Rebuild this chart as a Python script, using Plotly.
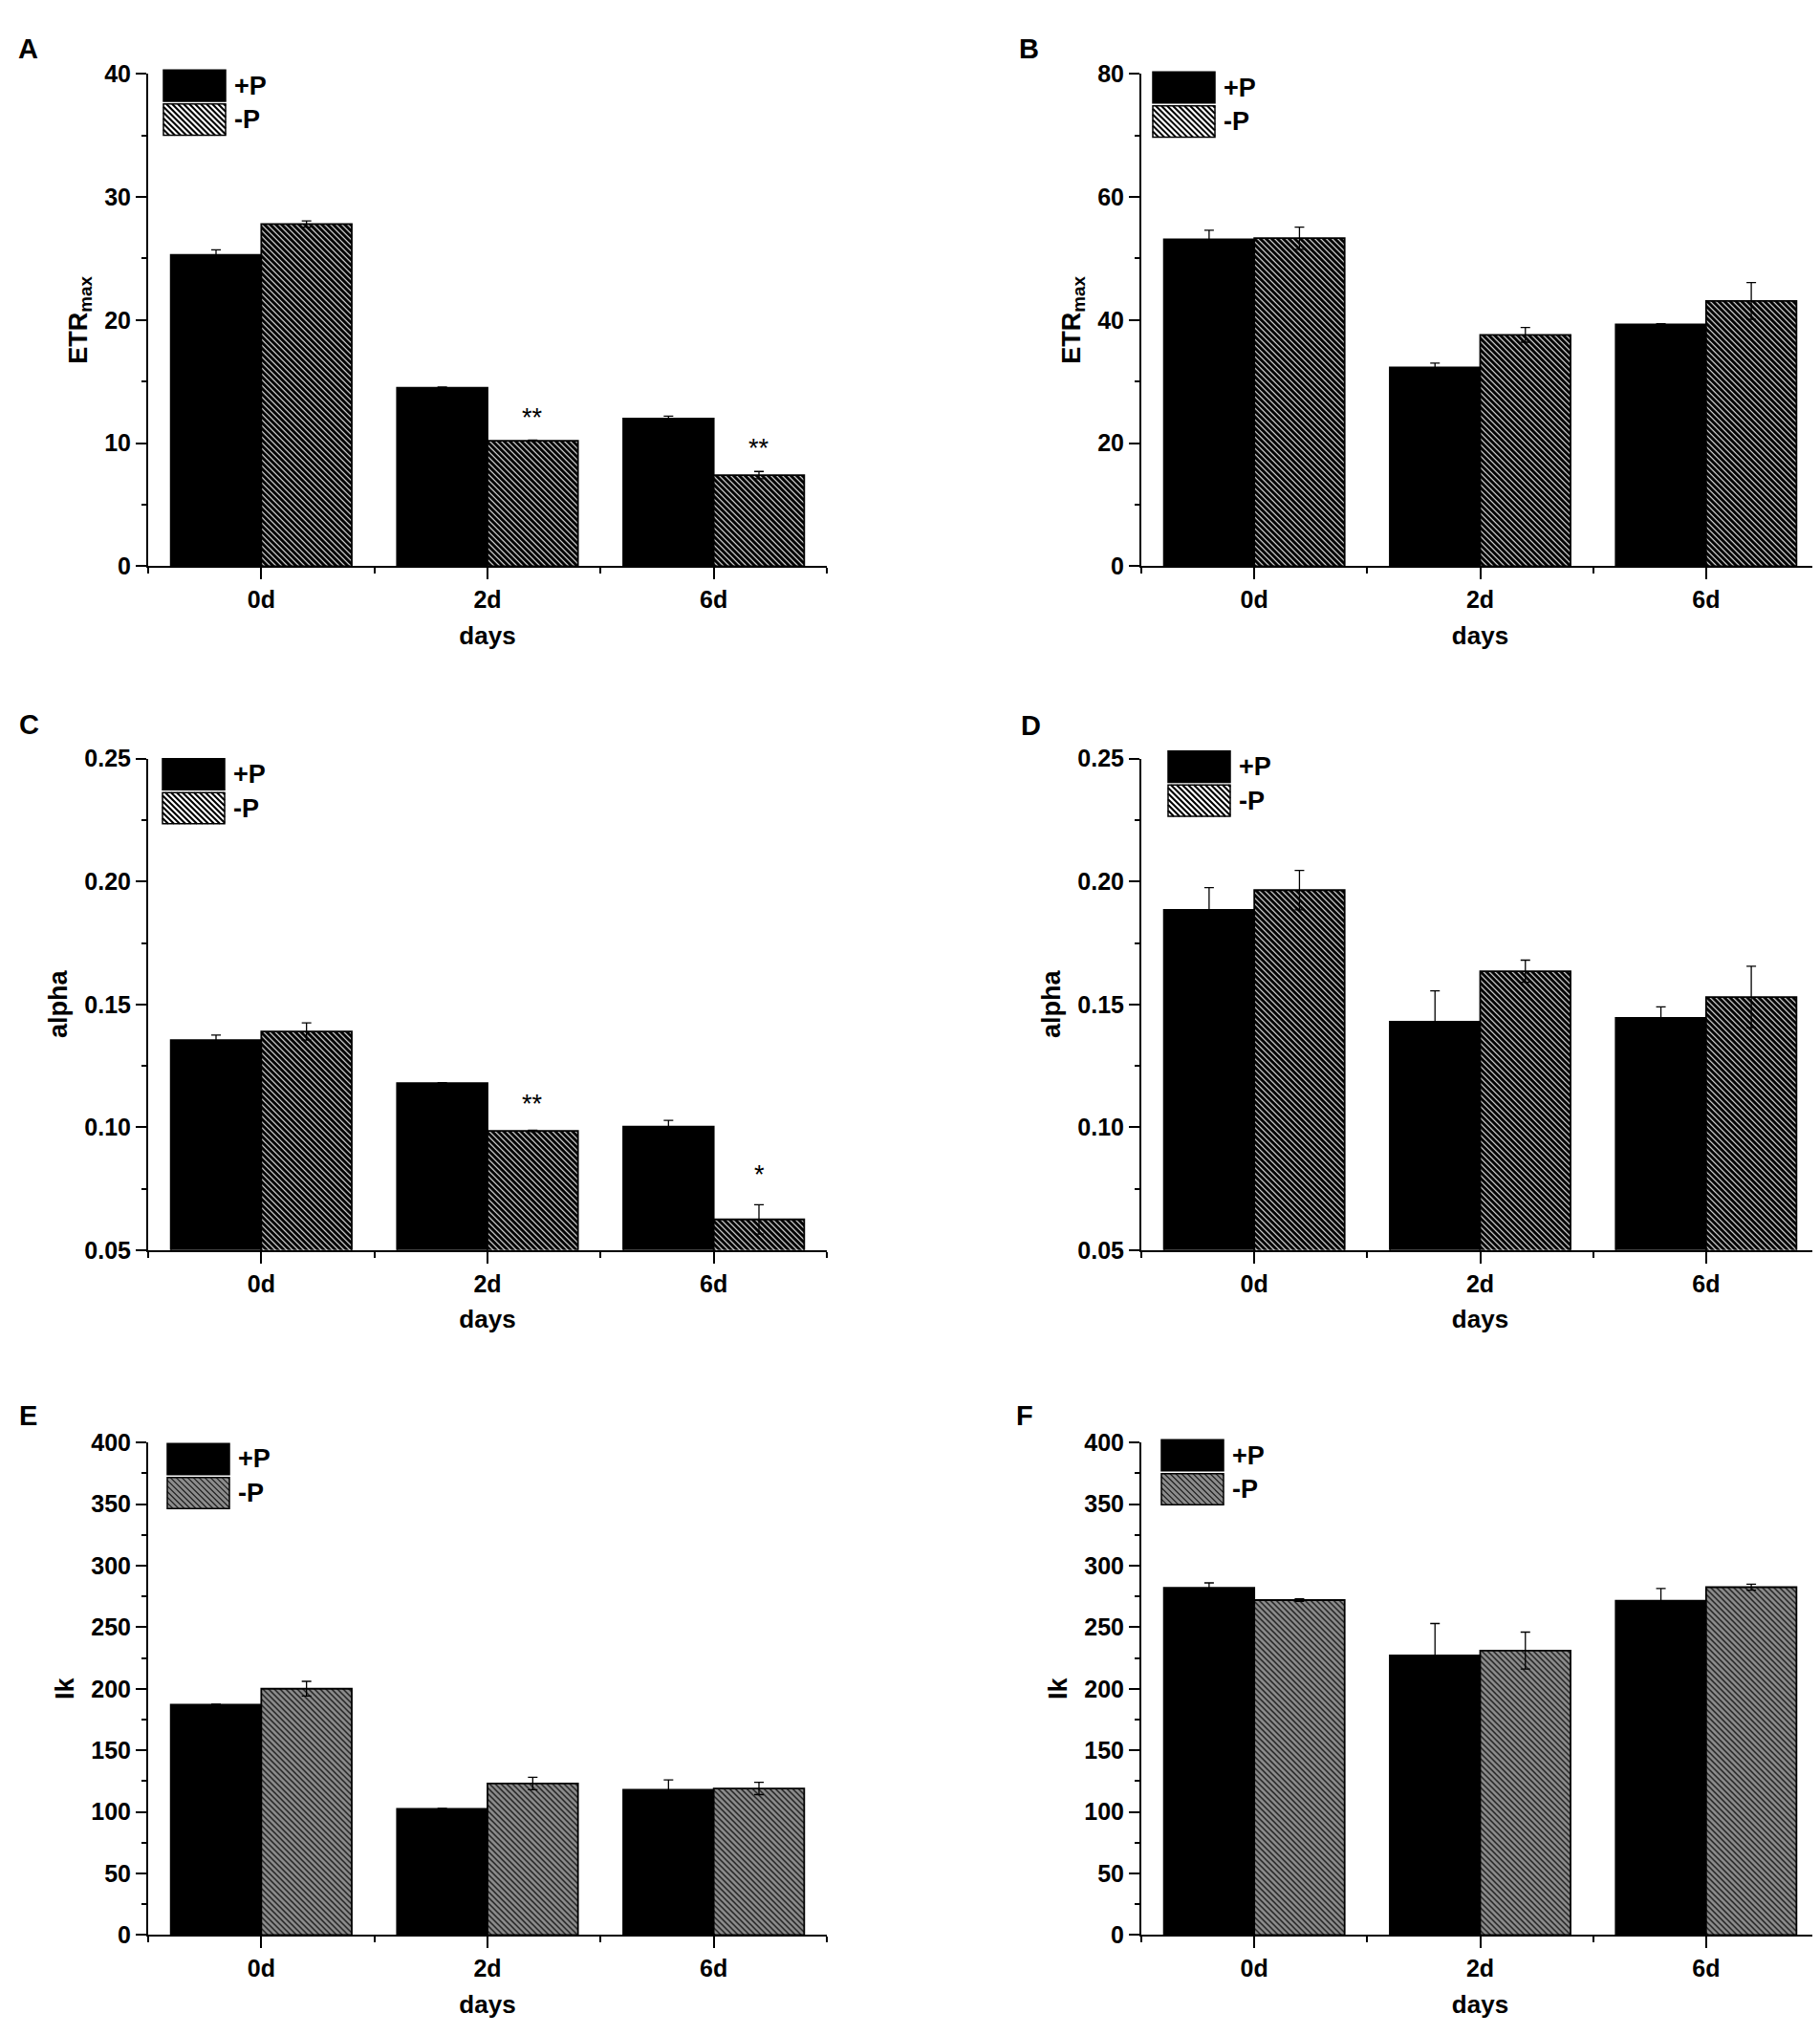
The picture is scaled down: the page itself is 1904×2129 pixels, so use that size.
import math
import plotly.graph_objects as go
from plotly.subplots import make_subplots

W, H = 1904, 2129

# Data
days = ["0d", "2d", "6d"]
x_idx = list(range(len(days)))

# A: ETRmax, first experiment
etr_a_plus = [25.3, 14.5, 12.0]
etr_a_plus_err = [0.4, 0.05, 0.2]
etr_a_minus = [27.8, 10.2, 7.4]
etr_a_minus_err = [0.25, 0.05, 0.3]
sig_a = ["", "**", "**"]
sig_a_y = [None, 12.1, 9.6]

# B: ETRmax, second experiment
etr_b_plus = [53.1, 32.3, 39.3]
etr_b_plus_err = [1.5, 0.7, 0.1]
etr_b_minus = [53.3, 37.6, 43.1]
etr_b_minus_err = [1.8, 1.2, 3.0]

# C: alpha
alpha_c_plus = [0.1355, 0.118, 0.1003]
alpha_c_plus_err = [0.002, 0.0002, 0.0025]
alpha_c_minus = [0.139, 0.0985, 0.0625]
alpha_c_minus_err = [0.0035, 0.0003, 0.006]
sig_c = ["", "**", "*"]
sig_c_y = [None, 0.1095, 0.0805]

# D: alpha
alpha_d_plus = [0.1885, 0.143, 0.1445]
alpha_d_plus_err = [0.009, 0.0125, 0.0045]
alpha_d_minus = [0.1965, 0.1635, 0.153]
alpha_d_minus_err = [0.008, 0.0045, 0.0125]

# E: Ik
ik_e_plus = [187, 102.5, 118]
ik_e_plus_err = [0.5, 0.3, 8]
ik_e_minus = [200, 123, 119]
ik_e_minus_err = [6, 5, 5]

# F: Ik
ik_f_plus = [282, 227, 271.5]
ik_f_plus_err = [4, 26, 10]
ik_f_minus = [272, 231, 282.5]
ik_f_minus_err = [1, 15, 2.5]

FAMILY = "Liberation Sans, Arial, sans-serif"
TICK_FONT = dict(family=FAMILY, size=25, color="black", weight="bold")
TITLE_FONT = dict(family=FAMILY, size=27, color="black", weight="bold")
HATCH = 6 / math.sqrt(2)  # pattern tile of 6 px

# panel frames in pixels: (left, right, top, bottom)
frames = {
    "A": (147, 857, 56, 578),
    "B": (1186, 1895, 56, 578),
    "C": (147, 857, 782, 1303),
    "D": (1186, 1895, 782, 1303),
    "E": (147, 857, 1507, 2029),
    "F": (1186, 1895, 1507, 2029),
}
letter_pos = {"A": (21, 29), "B": (1068, 29), "C": (22, 746), "D": (1070, 747),
              "E": (21, 1478), "F": (1064, 1478)}
legend_pos = {"A": (163, 52), "B": (1198, 54), "C": (162, 782), "D": (1214, 774),
              "E": (167, 1508), "F": (1207, 1504)}

panels = [
    # key, row, col, plus, plus_err, minus, minus_err, ytitle, range, dtick, minor, fmt, gray, sig, sig_y
    ("A", 1, 1, etr_a_plus, etr_a_plus_err, etr_a_minus, etr_a_minus_err, "ETR<sub>max</sub>",
     [0, 40], 10, 5, None, False, sig_a, sig_a_y),
    ("B", 1, 2, etr_b_plus, etr_b_plus_err, etr_b_minus, etr_b_minus_err, "ETR<sub>max</sub>",
     [0, 80], 20, 10, None, False, None, None),
    ("C", 2, 1, alpha_c_plus, alpha_c_plus_err, alpha_c_minus, alpha_c_minus_err, "alpha",
     [0.05, 0.25], 0.05, 0.025, ".2f", False, sig_c, sig_c_y),
    ("D", 2, 2, alpha_d_plus, alpha_d_plus_err, alpha_d_minus, alpha_d_minus_err, "alpha",
     [0.05, 0.25], 0.05, 0.025, ".2f", False, None, None),
    ("E", 3, 1, ik_e_plus, ik_e_plus_err, ik_e_minus, ik_e_minus_err, "Ik",
     [0, 400], 50, 25, None, True, None, None),
    ("F", 3, 2, ik_f_plus, ik_f_plus_err, ik_f_minus, ik_f_minus_err, "Ik",
     [0, 400], 50, 25, None, True, None, None),
]

fig = make_subplots(rows=3, cols=2)

shapes = []
annotations = []


def px(x, y):
    return x / W, 1 - y / H


def hatch_path(x0, y0, w, h, step):
    # diagonal lines running top-left to bottom-right, clipped to the box
    parts = []
    c = -h
    while c < w:
        xa = max(0, c)
        xb = min(w, h + c)
        if xb > xa:
            ax, ay = px(x0 + xa, y0 + xa - c)
            bx, by = px(x0 + xb, y0 + xb - c)
            parts.append(f"M{ax:.5f},{ay:.5f} L{bx:.5f},{by:.5f}")
        c += step
    return " ".join(parts)


for (key, row, col, yp, ep, ym, em, ytitle, yrange, dtick, minor, fmt, gray, sig, sig_y) in panels:
    if gray:
        minus_marker = dict(color="#8c8c8c", line=dict(color="black", width=1.8),
                            pattern=dict(shape="\\", fgcolor="#1e1e1e", bgcolor="#8c8c8c",
                                         fgopacity=1, size=HATCH, solidity=0.35))
    else:
        minus_marker = dict(color="white", line=dict(color="black", width=1.8),
                            pattern=dict(shape="\\", fgcolor="black", bgcolor="white",
                                         fgopacity=1, size=HATCH, solidity=0.75))
    fig.add_trace(go.Bar(
        x=x_idx, y=yp, name="+P", showlegend=False,
        marker=dict(color="black", line=dict(color="black", width=1.8)),
        error_y=dict(type="data", array=ep, visible=True, color="black", thickness=1.3, width=5),
    ), row=row, col=col)
    fig.add_trace(go.Bar(
        x=x_idx, y=ym, name="-P", showlegend=False,
        marker=minus_marker,
        error_y=dict(type="data", array=em, visible=True, color="black", thickness=1.3, width=5),
    ), row=row, col=col)

    l, r, t, b = frames[key]
    fig.update_xaxes(
        domain=[l / W, r / W], range=[-0.5, 2.5],
        tickmode="array", tickvals=x_idx, ticktext=days,
        showline=True, linecolor="black", linewidth=2, mirror=False,
        ticks="outside", ticklen=12, tickwidth=2, tickcolor="black",
        minor=dict(ticks="outside", tick0=-0.5, dtick=1, ticklen=6, tickwidth=2, tickcolor="black"),
        showgrid=False, zeroline=False, tickfont=TICK_FONT,
        title=dict(text="days", font=dict(TICK_FONT, size=26), standoff=15),
        row=row, col=col)
    fig.update_yaxes(
        domain=[1 - b / H, 1 - t / H], range=yrange,
        tick0=yrange[0], dtick=dtick, tickformat=fmt,
        showline=True, linecolor="black", linewidth=2, mirror=False,
        ticks="outside", ticklen=11, tickwidth=2, tickcolor="black",
        minor=dict(ticks="outside", dtick=minor, ticklen=5, tickwidth=2, tickcolor="black"),
        showgrid=False, zeroline=False, tickfont=TICK_FONT,
        title=dict(text=ytitle, font=TITLE_FONT, standoff=10),
        row=row, col=col)

    # significance marks
    if sig is not None:
        xref = fig.get_subplot(row, col).xaxis.plotly_name.replace("axis", "")
        yref = fig.get_subplot(row, col).yaxis.plotly_name.replace("axis", "")
        for i, s in enumerate(sig):
            if s:
                annotations.append(dict(x=x_idx[i] + 0.2, y=sig_y[i], xref=xref, yref=yref, text=s,
                                        showarrow=False,
                                        font=dict(family=FAMILY, size=27, color="black")))

    # panel letter
    lx, ly = px(*letter_pos[key])
    annotations.append(dict(x=lx, y=ly, xref="paper", yref="paper", text=key, showarrow=False,
                            xanchor="center", yanchor="middle",
                            font=dict(family=FAMILY, size=29, color="black", weight="bold")))

    # legend boxes
    gx, gy = legend_pos[key]
    bw, bh, gap = 65, 33, 3
    x0p, y0p = px(gx, gy)
    x1p, y1p = px(gx + bw, gy + bh)
    shapes.append(dict(type="rect", xref="paper", yref="paper", x0=x0p, x1=x1p, y0=y1p, y1=y0p,
                       fillcolor="black", line=dict(color="black", width=1.5)))
    hy = gy + bh + gap
    x0p, y0p = px(gx, hy)
    x1p, y1p = px(gx + bw, hy + bh)
    shapes.append(dict(type="rect", xref="paper", yref="paper", x0=x0p, x1=x1p, y0=y1p, y1=y0p,
                       fillcolor="#8c8c8c" if gray else "white", line=dict(width=0)))
    shapes.append(dict(type="path", xref="paper", yref="paper", path=hatch_path(gx, hy, bw, bh, 6),
                       line=dict(color="#1e1e1e" if gray else "black", width=1.2 if gray else 2.1)))
    shapes.append(dict(type="rect", xref="paper", yref="paper", x0=x0p, x1=x1p, y0=y1p, y1=y0p,
                       fillcolor="rgba(0,0,0,0)", line=dict(color="black", width=1.5)))
    for txt, cy in (("+P", gy + bh / 2), ("-P", hy + bh / 2)):
        tx, ty = px(gx + bw + 7, cy)
        annotations.append(dict(x=tx, y=ty, xref="paper", yref="paper", text=txt, showarrow=False,
                                xanchor="left", yanchor="middle",
                                font=dict(family=FAMILY, size=27, color="black", weight="bold")))

fig.update_layout(
    width=W, height=H,
    margin=dict(l=0, r=0, t=0, b=0),
    paper_bgcolor="white", plot_bgcolor="white",
    barmode="group", bargap=0.2, bargroupgap=0,
    showlegend=False,
    shapes=shapes, annotations=annotations,
)

fig.write_html("out.html")
